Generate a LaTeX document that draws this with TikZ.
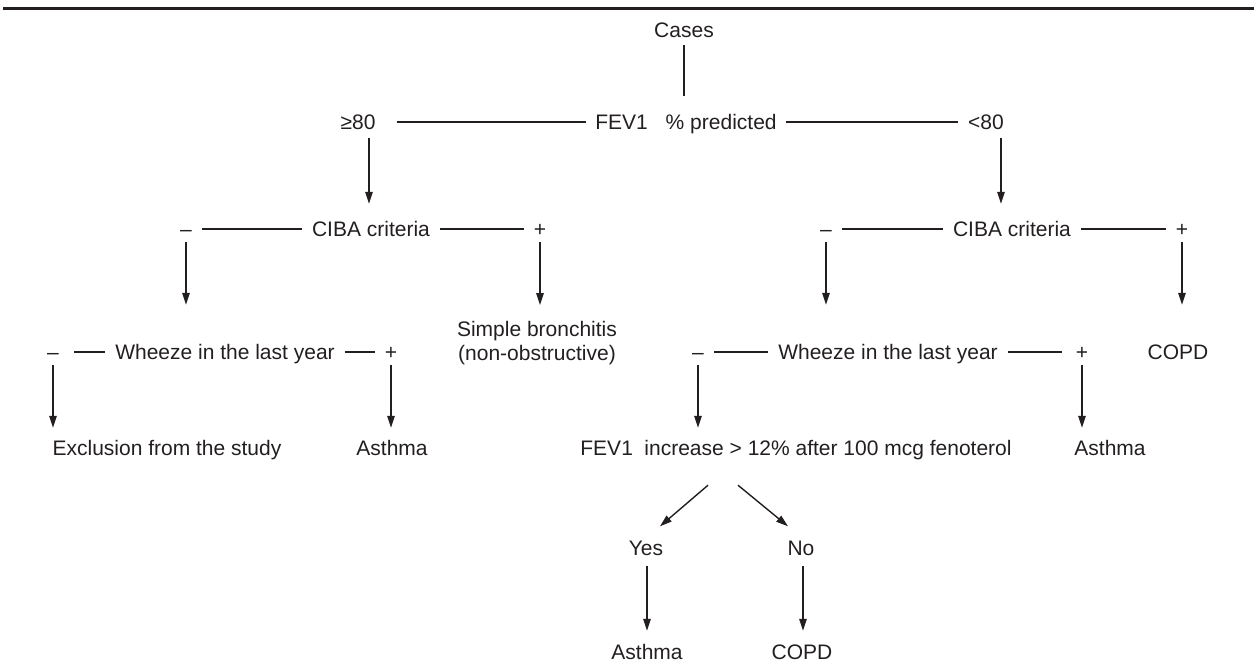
\documentclass[tikz,border=0pt]{standalone}
\usepackage{fontspec}
\setmainfont{Liberation Sans}
\usetikzlibrary{arrows.meta}
\definecolor{ink}{HTML}{231F20}
\begin{document}
\begin{tikzpicture}[x=1pt,y=-1pt,
 lab/.style={font=\fontsize{21}{24}\selectfont, text=ink, inner sep=0pt, text height=15pt, text depth=0pt},
 multi/.style={font=\fontsize{21}{24}\selectfont, text=ink, inner sep=0pt, align=center},
 conn/.style={draw=ink, line width=1.4pt},
 hl/.style={conn, shorten <=10pt, shorten >=10pt},
 arr/.style={conn, -{Triangle[length=12pt,width=7.5pt]}},
]
\useasboundingbox (0,0) rectangle (1256,667);
\draw[ink, line width=3pt] (3,8) -- (1254,8);

% row 0 / 1
\node[lab] (cases) at (684,30) {Cases};
\node[lab] (geq) at (358,122) {≥80};
\node[lab] (fev) at (686,122) {FEV1\hspace{0.85em}\% predicted};
\node[lab] (lt) at (986,122) {<80};
\draw[conn, shorten <=7.5pt, shorten >=18.5pt] (cases.south) -- (cases.south |- fev.north);
\draw[hl, shorten <=21pt, shorten >=9pt] (geq.east) -- (fev.west);
\draw[hl, shorten <=9pt] (fev.east) -- (lt.west);

% row 2
\node[lab] (mL) at (186,229) {\textendash};
\node[lab] (cibaL) at (371,229) {CIBA criteria};
\node[lab] (pL) at (540,229) {+};
\node[lab] (mR) at (826,229) {\textendash};
\node[lab] (cibaR) at (1012,229) {CIBA criteria};
\node[lab] (pR) at (1182,229) {+};
\draw[hl] (mL.east) -- (cibaL.west);
\draw[hl] (cibaL.east) -- (pL.west);
\draw[hl] (mR.east) -- (cibaR.west);
\draw[hl] (cibaR.east) -- (pR.west);
\draw[arr, shorten <=8.5pt, shorten >=17.5pt] ([xshift=11pt]geq.south) -- ([xshift=11pt]geq.south |- cibaL.north);
\draw[arr, shorten <=8.5pt, shorten >=17.5pt] ([xshift=15pt]lt.south) -- ([xshift=15pt]lt.south |- cibaR.north);

% row 3
\node[lab] (wmL) at (53,352) {\textendash};
\node[lab] (wL) at (225,352) {Wheeze in the last year};
\node[lab] (wpL) at (391,352) {+};
\node[multi, anchor=north] (simple) at (537,321.5) {Simple bronchitis\\(non-obstructive)};
\node[lab] (wmR) at (698,352) {\textendash};
\node[lab] (wR) at (888,352) {Wheeze in the last year};
\node[lab] (wpR) at (1082,352) {+};
\node[lab] (copd) at (1178,352) {COPD};
\draw[hl, shorten <=15pt] (wmL.east) -- (wL.west);
\draw[hl] (wL.east) -- (wpL.west);
\draw[hl] (wmR.east) -- (wR.west);
\draw[hl, shorten >=14pt] (wR.east) -- (wpR.west);
\draw[arr, shorten <=5.5pt, shorten >=39.5pt] (mL.south) -- (mL.south |- wL.north);
\draw[arr, shorten <=5.5pt, shorten >=16.5pt] (pL.south) -- (pL.south |- simple.north);
\draw[arr, shorten <=5.5pt, shorten >=39.5pt] (mR.south) -- (mR.south |- wR.north);
\draw[arr, shorten <=5.5pt, shorten >=39.5pt] (pR.south) -- (pR.south |- copd.north);

% row 4
\node[lab] (excl) at (167,448) {Exclusion from the study};
\node[lab] (asL) at (392,448) {Asthma};
\node[lab] (finc) at (796,448) {FEV1\hspace{0.55em}increase > 12\% after 100 mcg fenoterol};
\node[lab] (asR) at (1110,448) {Asthma};
\draw[arr, shorten <=5pt, shorten >=12.5pt] (wmL.south) -- (wmL.south |- excl.north);
\draw[arr, shorten <=5pt, shorten >=12.5pt] (wpL.south) -- (wpL.south |- asL.north);
\draw[arr, shorten <=5pt, shorten >=12.5pt] (wmR.south) -- (wmR.south |- finc.north);
\draw[arr, shorten <=5pt, shorten >=12.5pt] (wpR.south) -- (wpR.south |- asR.north);

% row 5 / 6
\node[lab] (yes) at (646,548) {Yes};
\node[lab] (no) at (801,548) {No};
\draw[arr] ([shift={(-88,29.5)}]finc.south) -- ([shift={(14,-14)}]yes.north);
\draw[arr] ([shift={(-58,29.5)}]finc.south) -- ([shift={(-13,-14)}]no.north);
\node[lab] (asB) at (647,652) {Asthma};
\node[lab] (copdB) at (802,652) {COPD};
\draw[arr, shorten <=10.5pt, shorten >=13.5pt] ([xshift=1pt]yes.south) -- ([xshift=1pt]yes.south |- asB.north);
\draw[arr, shorten <=10.5pt, shorten >=13.5pt] ([xshift=2pt]no.south) -- ([xshift=2pt]no.south |- copdB.north);
\end{tikzpicture}
\end{document}
